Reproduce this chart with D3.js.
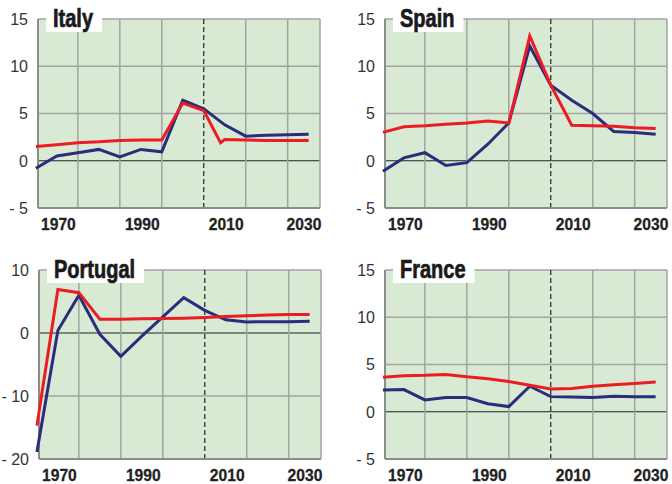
<!DOCTYPE html>
<html>
<head>
<meta charset="utf-8">
<script src="https://cdn.jsdelivr.net/npm/d3@7"></script>
<style>
  body { margin: 0; background: #fff; }
  svg { display: block; }
</style>
</head>
<body>
<svg id="chart"></svg>
<script>
const years = [1965, 1970, 1975, 1980, 1985, 1990, 1995, 2000, 2005, 2010, 2015, 2020, 2025, 2030];
const xLabels = [1970, 1990, 2010, 2030];
const xGrid = [1975, 1985, 1995, 2005, 2015, 2025];
const forecastYear = 2005;

const italyBlue = [-0.8, 0.5, 0.85, 1.2, 0.4, 1.2, 0.95, 6.4, 5.5, 3.8, 2.6, 2.7, 2.75, 2.8];
const italyRedYears = [1965, 1970, 1975, 1980, 1985, 1990, 1995, 2000, 2005, 2009, 2010, 2015, 2020, 2025, 2030];
const italyRed = [1.5, 1.7, 1.9, 2.0, 2.15, 2.2, 2.2, 6.1, 5.3, 1.9, 2.25, 2.2, 2.15, 2.15, 2.15];

const spainBlue = [-1.1, 0.3, 0.85, -0.5, -0.2, 1.75, 4.0, 12.15, 8.0, 6.4, 5.0, 3.1, 3.0, 2.8];
const spainRed = [3.0, 3.6, 3.7, 3.85, 4.0, 4.2, 4.0, 13.2, 8.0, 3.75, 3.7, 3.65, 3.5, 3.4];

const portugalBlue = [-18.9, 0.4, 6.0, -0.2, -3.7, -0.5, 2.55, 5.6, 3.6, 2.1, 1.75, 1.8, 1.8, 1.85];
const portugalRed = [-14.7, 6.9, 6.4, 2.2, 2.2, 2.25, 2.3, 2.35, 2.45, 2.6, 2.75, 2.85, 2.95, 2.95];

const franceBlue = [2.3, 2.35, 1.25, 1.5, 1.5, 0.85, 0.55, 2.7, 1.6, 1.55, 1.5, 1.65, 1.6, 1.6];
const franceRed = [3.65, 3.8, 3.85, 3.95, 3.7, 3.5, 3.2, 2.8, 2.4, 2.45, 2.7, 2.85, 3.0, 3.15];

const yTicksMain = [-5, 0, 5, 10, 15];
const yTicksPortugal = [-20, -10, 0, 10];

const panels = [
  { name: "Italy", x0: 38, y0: 19, domain: [-5, 15], ticks: yTicksMain,
    blue: years.map((y, i) => [y, italyBlue[i]]),
    red: italyRedYears.map((y, i) => [y, italyRed[i]]) },
  { name: "Spain", x0: 385, y0: 19, domain: [-5, 15], ticks: yTicksMain,
    blue: years.map((y, i) => [y, spainBlue[i]]),
    red: years.map((y, i) => [y, spainRed[i]]) },
  { name: "Portugal", x0: 39, y0: 270, domain: [-20, 10], ticks: yTicksPortugal,
    blue: years.map((y, i) => [y, portugalBlue[i]]),
    red: years.map((y, i) => [y, portugalRed[i]]) },
  { name: "France", x0: 385, y0: 270, domain: [-5, 15], ticks: yTicksMain,
    blue: years.map((y, i) => [y, franceBlue[i]]),
    red: years.map((y, i) => [y, franceRed[i]]) },
];

const W = 672, H = 484;
const pw = 282, ph = 189;
const sans = "'Liberation Sans', Arial, sans-serif";

const svg = d3.select("#chart").attr("width", W).attr("height", H)
  .style("background", "#fff");

const xScale = d3.scaleLinear().domain([1965.5, 2032.7]).range([0, pw]);

panels.forEach((p) => {
  const yScale = d3.scaleLinear().domain(p.domain).range([ph, 0]);
  const g = svg.append("g").attr("transform", `translate(${p.x0}, ${p.y0})`);

  g.append("rect")
    .attr("width", pw).attr("height", ph)
    .attr("fill", "#d8ead3");

  // grid
  g.selectAll(".hgrid").data(p.ticks).enter().append("line")
    .attr("x1", 0).attr("x2", pw)
    .attr("y1", (d) => yScale(d)).attr("y2", (d) => yScale(d))
    .attr("stroke", (d) => (d === 0 ? "#222" : "#a3a3a3"))
    .attr("stroke-width", (d) => (d === 0 ? 1 : 1.5));
  g.selectAll(".vgrid").data(xGrid.filter((d) => d !== forecastYear)).enter().append("line")
    .attr("x1", (d) => xScale(d)).attr("x2", (d) => xScale(d))
    .attr("y1", 0).attr("y2", ph)
    .attr("stroke", "#a3a3a3").attr("stroke-width", 1.5);
  g.append("line")
    .attr("x1", pw).attr("x2", pw).attr("y1", 0).attr("y2", ph)
    .attr("stroke", "#a3a3a3").attr("stroke-width", 1.5);
  g.append("line")
    .attr("x1", xScale(forecastYear)).attr("x2", xScale(forecastYear))
    .attr("y1", 0).attr("y2", ph)
    .attr("stroke", "#222").attr("stroke-width", 1.2)
    .attr("stroke-dasharray", "5,3");

  // axes lines
  g.append("line").attr("x1", 0).attr("x2", 0).attr("y1", 0).attr("y2", ph)
    .attr("stroke", "#8c8c8c").attr("stroke-width", 2);
  g.append("line").attr("x1", 0).attr("x2", pw).attr("y1", ph).attr("y2", ph)
    .attr("stroke", "#8c8c8c").attr("stroke-width", 2);

  // y labels
  g.selectAll(".ylab").data(p.ticks).enter().append("text")
    .attr("x", -10).attr("y", (d) => yScale(d))
    .attr("dy", "0.36em")
    .attr("text-anchor", "end")
    .attr("font-family", sans)
    .attr("font-size", 16)
    .attr("fill", "#333")
    .text((d) => (d < 0 ? "- " + Math.abs(d) : d));

  // x labels
  g.selectAll(".xlab").data(xLabels).enter().append("text")
    .attr("transform", (d) => `translate(${Math.min(xScale(d) + 1.5, pw - 16)}, ${ph + 22}) scale(0.92, 1)`)
    .attr("text-anchor", "middle")
    .attr("font-family", sans)
    .attr("font-weight", "bold")
    .attr("font-size", 17)
    .attr("fill", "#222")
    .attr("stroke", "#222").attr("stroke-width", 0.3)
    .text((d) => d);

  // lines
  const line = d3.line().x((d) => xScale(d[0])).y((d) => yScale(d[1]));
  g.append("path").datum(p.blue)
    .attr("fill", "none").attr("stroke", "#2b2c7c").attr("stroke-width", 3)
    .attr("d", line);
  g.append("path").datum(p.red)
    .attr("fill", "none").attr("stroke", "#ec1c24").attr("stroke-width", 3)
    .attr("d", line);

  // title box (white patch over the top-left of the plot)
  const box = g.append("rect").attr("fill", "#fff");
  const title = g.append("text")
    .attr("transform", "translate(15, 7.5) scale(0.8, 1)")
    .attr("font-family", sans)
    .attr("font-weight", "bold")
    .attr("font-size", 25)
    .attr("fill", "#1a1a1a")
    .attr("stroke", "#1a1a1a").attr("stroke-width", 0.7)
    .text(p.name);
  const tw = title.node().getComputedTextLength() * 0.8;
  box.attr("x", 8).attr("y", -19)
    .attr("width", tw + 16).attr("height", 32);
});
</script>
</body>
</html>
